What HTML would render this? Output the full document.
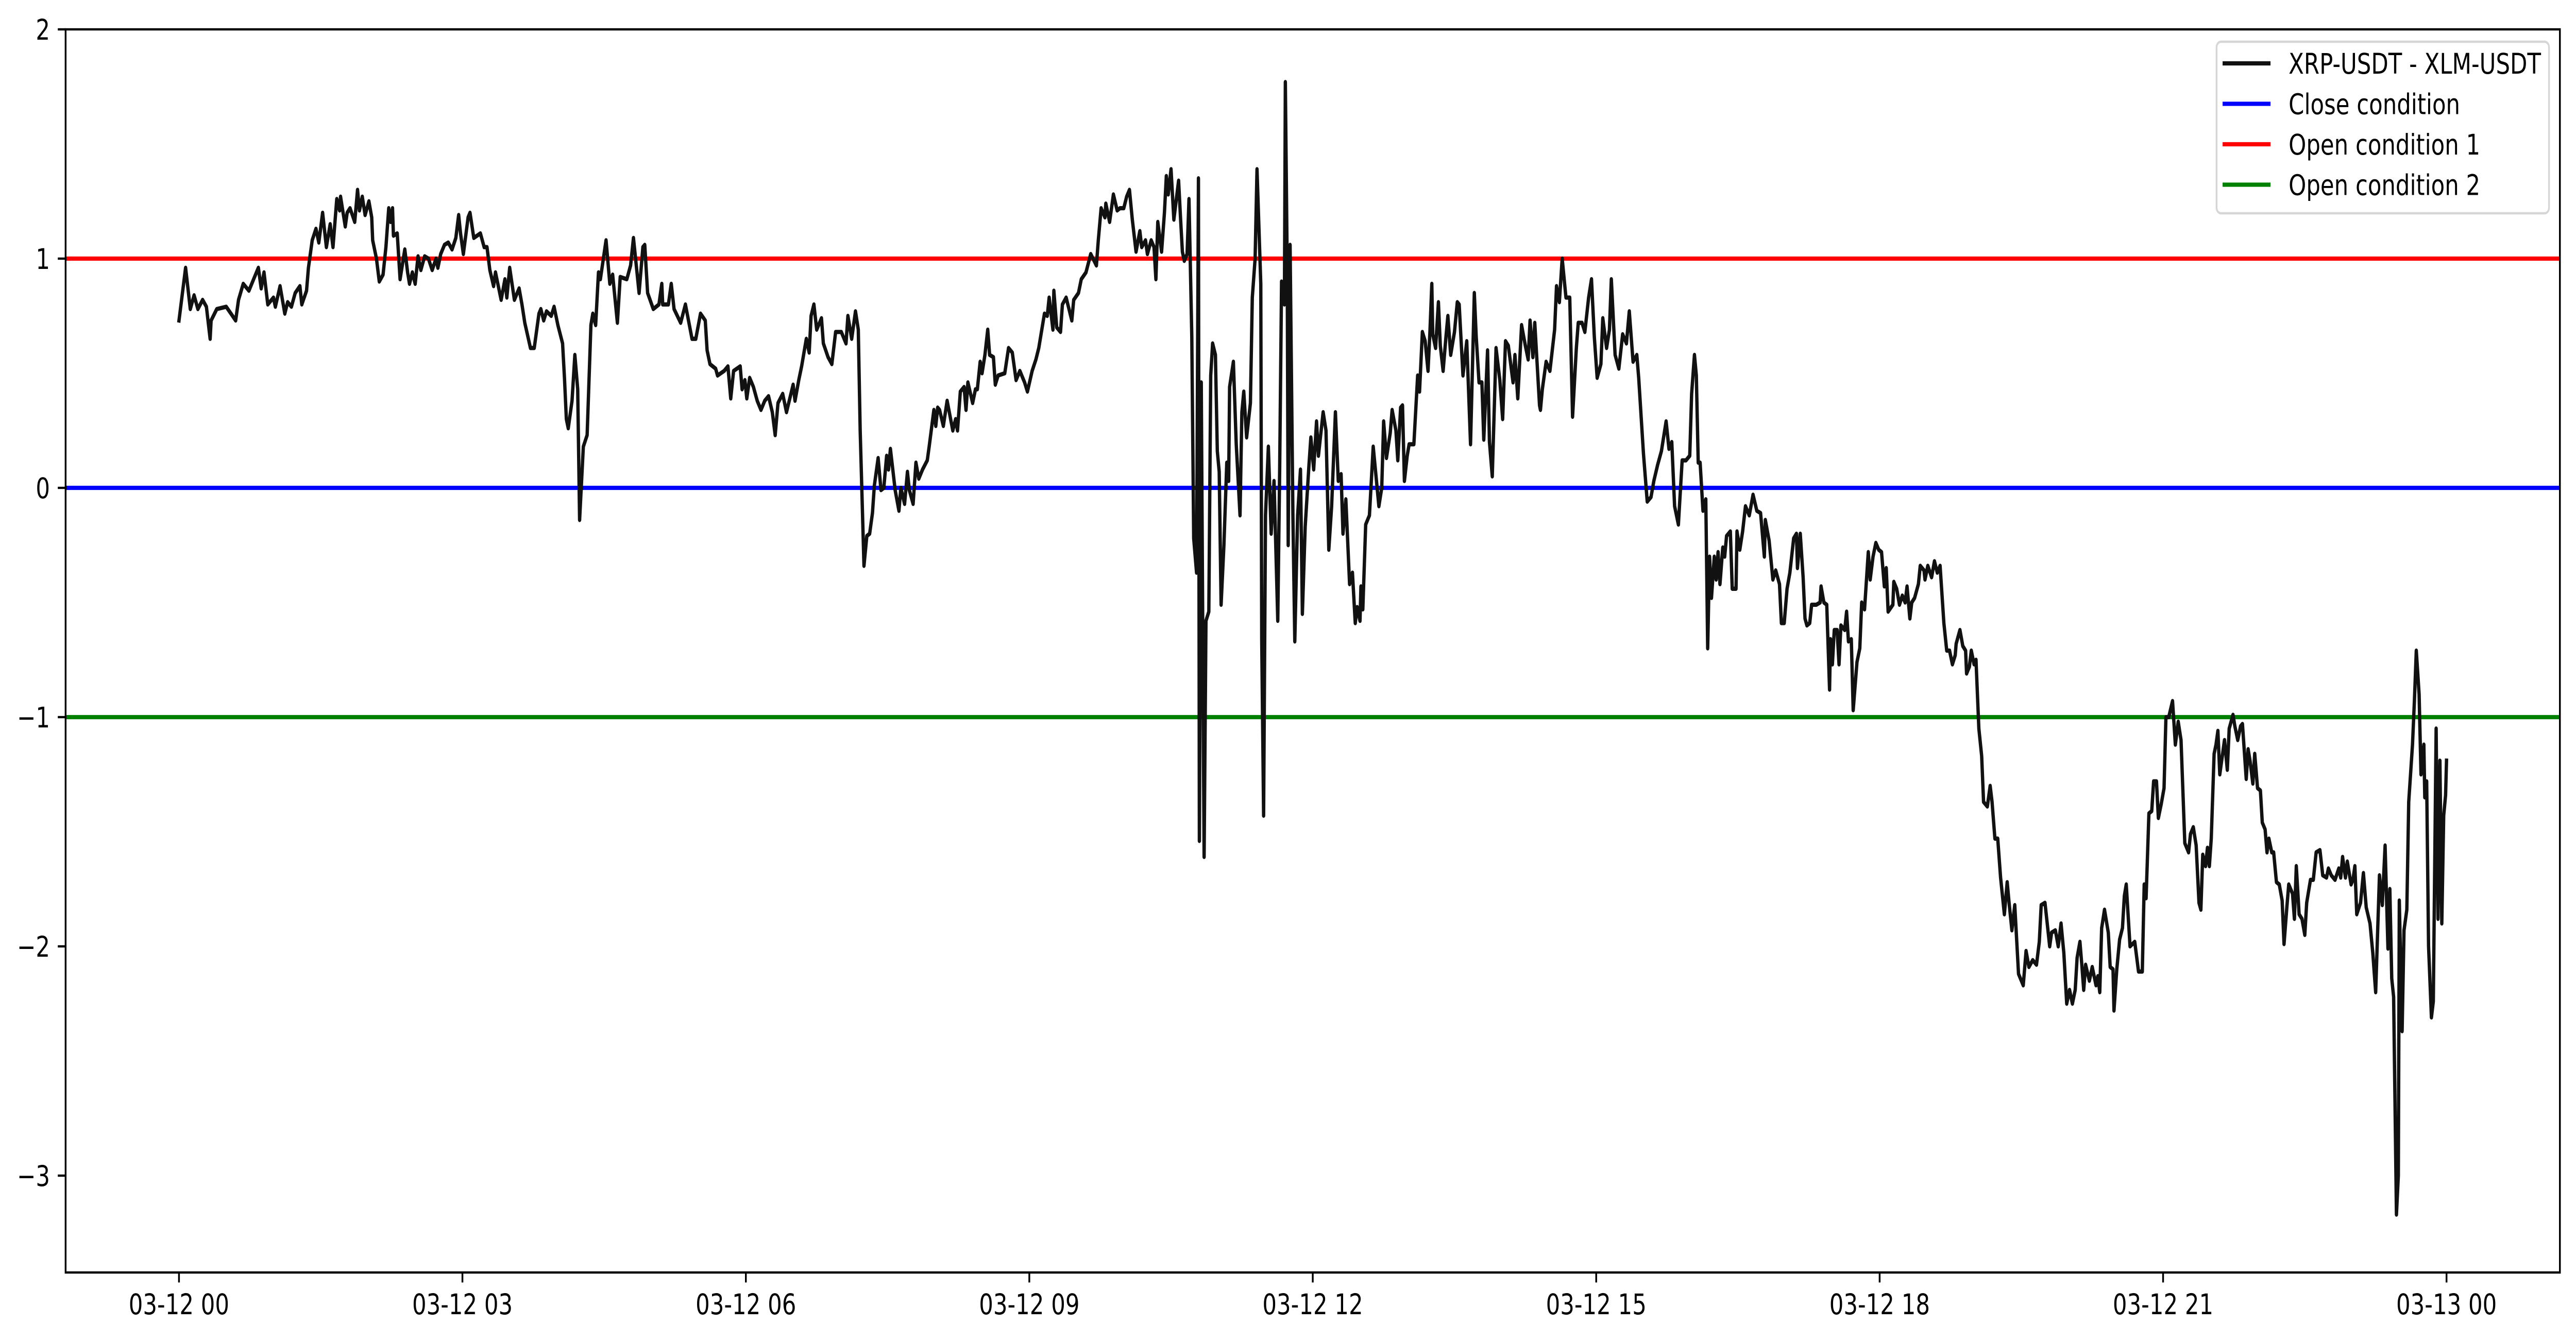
<!DOCTYPE html>
<html><head><meta charset="utf-8">
<meta name="viewport" content="width=6400, initial-scale=1">
<style>
html,body{margin:0;padding:0;background:#fff;width:100%;height:100%;overflow:hidden;}
svg{display:block;position:absolute;left:0;top:0;width:100vw;height:100vh;}
text{font-family:"DejaVu Sans","Liberation Sans",sans-serif;fill:#000;}
</style></head>
<body>
<svg id="chart" viewBox="0 0 6400 2603" preserveAspectRatio="none" xmlns="http://www.w3.org/2000/svg">
<rect x="0" y="0" width="6400" height="2603" fill="#fff"/>
<defs><clipPath id="plotclip"><rect x="163" y="57" width="6197" height="2413"/></clipPath></defs>
<g id="hlines" clip-path="url(#plotclip)"></g>
<g id="series" clip-path="url(#plotclip)"></g>
<g id="axes"></g>
<g id="legend"></g>
</svg>
<script>
const xTickHours = [0,3,6,9,12,15,18,21,24];
const xTickLabels = ["03-12 00","03-12 03","03-12 06","03-12 09","03-12 12","03-12 15","03-12 18","03-12 21","03-13 00"];
const yTickValues = [2,1,0,-1,-2,-3];
const yTickLabels = ["2","1","0","\u22121","\u22122","\u22123"];
const thresholdValues = [0,1,-1];
const thresholdColors = ["#0000ff","#ff0000","#008000"];
const legendLabels = ["XRP-USDT - XLM-USDT","Close condition","Open condition 1","Open condition 2"];
const legendColors = ["#111111","#0000ff","#ff0000","#008000"];
const hours = [0,0.07,0.12,0.16,0.2,0.25,0.29,0.33,0.34,0.4,0.5,0.55,0.6,0.63,0.68,0.74,0.79,0.84,0.87,0.9,0.94,1.0,1.02,1.07,1.12,1.15,1.19,1.23,1.28,1.3,1.35,1.37,1.41,1.45,1.48,1.52,1.56,1.6,1.63,1.67,1.7,1.71,1.76,1.78,1.81,1.86,1.89,1.91,1.94,1.97,2.01,2.04,2.05,2.09,2.12,2.16,2.19,2.22,2.24,2.26,2.27,2.31,2.34,2.39,2.42,2.44,2.47,2.5,2.53,2.56,2.6,2.64,2.68,2.72,2.74,2.77,2.81,2.85,2.89,2.93,2.96,2.98,3.01,3.06,3.08,3.12,3.19,3.23,3.26,3.29,3.33,3.35,3.41,3.45,3.47,3.5,3.55,3.6,3.63,3.66,3.72,3.76,3.81,3.83,3.86,3.89,3.94,3.97,
4.01,4.06,4.08,4.1,4.12,4.16,4.19,4.22,4.24,4.28,4.32,4.36,4.38,4.41,4.44,4.46,4.52,4.56,4.59,4.64,4.67,4.74,4.78,4.81,4.87,4.91,4.93,4.96,5.02,5.08,5.11,5.12,5.18,5.21,5.24,5.31,5.36,5.43,5.47,5.52,5.57,5.59,5.62,5.68,5.7,5.77,5.81,5.84,5.87,5.94,5.96,5.99,6.01,6.04,6.08,6.12,6.16,6.2,6.24,6.28,6.31,6.34,6.39,6.43,6.5,6.52,6.56,6.59,6.64,6.67,6.69,6.72,6.75,6.8,6.82,6.87,6.91,6.95,7.01,7.06,7.08,7.12,7.16,7.19,7.21,7.25,7.28,7.31,7.34,7.36,7.4,7.43,7.46,7.49,7.51,7.53,7.58,7.62,7.64,7.68,7.71,7.73,7.77,7.8,7.83,7.87,7.92,7.94,7.99,8.01,8.03,
8.05,8.09,8.13,8.19,8.22,8.24,8.27,8.31,8.33,8.35,8.4,8.43,8.45,8.48,8.5,8.53,8.56,8.58,8.62,8.64,8.67,8.74,8.78,8.82,8.86,8.9,8.95,8.98,9.03,9.07,9.1,9.16,9.19,9.21,9.25,9.26,9.29,9.33,9.35,9.39,9.45,9.47,9.52,9.55,9.6,9.65,9.71,9.73,9.76,9.8,9.81,9.85,9.89,9.93,9.96,10.0,10.03,10.06,10.09,10.13,10.17,10.19,10.23,10.25,10.29,10.32,10.34,10.36,10.4,10.43,10.45,10.47,10.5,10.53,10.58,10.6,10.62,10.64,10.67,10.69,10.72,10.74,10.77,10.79,10.8,10.82,10.85,10.87,10.9,10.92,10.94,10.97,10.99,11.01,11.03,11.06,11.09,11.11,11.12,11.16,11.19,11.23,11.25,11.27,11.3,11.34,11.36,11.39,11.41,11.45,11.46,11.48,11.5,11.53,11.56,11.59,11.63,11.65,11.67,11.7,11.71,11.73,11.74,11.76,11.79,11.81,11.84,11.87,11.89,11.92,11.96,11.98,12.01,12.04,
12.06,12.11,12.14,12.17,12.2,12.24,12.27,12.3,12.32,12.35,12.39,12.42,12.45,12.47,12.5,12.51,12.53,12.56,12.6,12.64,12.7,12.73,12.75,12.78,12.82,12.84,12.88,12.9,12.93,12.95,12.97,13.0,13.02,13.07,13.11,13.13,13.16,13.19,13.22,13.24,13.26,13.27,13.3,13.33,13.35,13.38,13.41,13.43,13.46,13.5,13.53,13.55,13.59,13.63,13.67,13.71,13.73,13.76,13.79,13.81,13.85,13.87,13.9,13.94,13.98,14.01,14.04,14.07,14.12,14.14,14.17,14.21,14.25,14.28,14.3,14.33,14.35,14.4,14.41,14.43,14.47,14.51,14.56,14.58,14.61,14.64,14.68,14.72,14.75,14.79,14.81,14.85,14.88,14.92,14.95,14.98,15.01,15.05,15.07,15.11,15.14,15.16,15.2,15.24,15.28,15.32,15.35,15.39,15.43,15.45,15.5,15.54,15.58,15.61,15.65,15.69,15.74,15.77,15.8,15.83,15.87,15.91,15.95,15.99,16.01,16.04,
16.06,16.08,16.1,16.13,16.16,16.18,16.2,16.22,16.25,16.27,16.29,16.31,16.34,16.36,16.38,16.42,16.44,16.48,16.49,16.52,16.55,16.58,16.62,16.66,16.7,16.74,16.78,16.79,16.83,16.87,16.9,16.94,16.96,16.99,17.02,17.05,17.09,17.12,17.13,17.16,17.19,17.21,17.23,17.26,17.28,17.33,17.37,17.38,17.41,17.44,17.47,17.48,17.5,17.52,17.55,17.57,17.59,17.63,17.65,17.67,17.7,17.72,17.76,17.79,17.81,17.84,17.88,17.9,17.93,17.96,17.99,18.02,18.05,18.07,18.09,18.14,18.15,18.18,18.21,18.24,18.27,18.29,18.32,18.34,18.37,18.41,18.43,18.47,18.48,18.51,18.55,18.58,18.61,18.64,18.68,18.71,18.74,18.77,18.8,18.81,18.85,18.88,18.91,18.92,18.95,18.97,19.0,19.02,19.05,19.08,19.1,19.14,19.17,19.19,19.22,19.25,19.28,19.32,19.35,19.37,19.4,19.43,19.47,19.52,19.55,19.58,19.62,19.66,19.69,19.71,19.75,19.8,19.82,19.86,19.89,19.92,19.95,19.98,20.01,20.04,
20.07,20.09,20.12,20.14,20.16,20.18,20.22,20.25,20.29,20.31,20.33,20.35,20.38,20.42,20.44,20.47,20.48,20.51,20.54,20.57,20.59,20.61,20.65,20.7,20.74,20.78,20.8,20.82,20.85,20.88,20.9,20.93,20.95,20.98,21.01,21.03,21.06,21.1,21.13,21.16,21.19,21.23,21.27,21.29,21.32,21.35,21.38,21.4,21.42,21.45,21.47,21.49,21.51,21.54,21.56,21.58,21.6,21.65,21.68,21.7,21.74,21.76,21.79,21.82,21.84,21.88,21.9,21.92,21.95,21.97,22.0,22.03,22.05,22.08,22.1,22.12,22.15,22.17,22.2,22.23,22.26,22.28,22.31,22.33,22.37,22.39,22.41,22.44,22.47,22.5,22.52,22.56,22.59,22.62,22.66,22.69,22.73,22.75,22.78,22.82,22.86,22.88,22.9,22.93,22.95,22.99,23.01,23.03,23.05,23.09,23.12,23.15,23.19,23.22,23.25,23.29,23.32,23.35,23.38,23.4,23.42,23.44,23.47,23.49,23.5,23.53,23.55,23.58,23.6,23.64,23.66,23.68,23.71,23.73,23.76,23.77,23.79,23.81,23.84,23.86,23.89,23.91,23.93,23.95,23.97,23.99,24.0];
const values = [0.73,0.96,0.78,0.84,0.78,0.82,0.79,0.65,0.73,0.78,0.79,0.76,0.73,0.82,0.89,0.86,0.91,0.96,0.87,0.94,0.80,0.83,0.79,0.88,0.76,0.81,0.79,0.85,0.88,0.80,0.86,0.96,1.08,1.13,1.07,1.20,1.05,1.15,1.05,1.26,1.21,1.27,1.14,1.20,1.22,1.16,1.30,1.21,1.27,1.19,1.25,1.18,1.08,1.0,0.90,0.93,1.05,1.22,1.16,1.22,1.10,1.11,0.91,1.04,0.94,0.89,0.94,0.89,1.01,0.95,1.01,1.0,0.95,1.0,0.96,1.02,1.06,1.07,1.04,1.09,1.19,1.11,1.02,1.18,1.20,1.09,1.11,1.05,1.05,0.95,0.88,0.94,0.82,0.91,0.83,0.96,0.82,0.87,0.80,0.72,0.61,0.61,0.76,0.78,0.73,0.77,0.75,0.79,
0.71,0.63,0.48,0.30,0.26,0.38,0.58,0.43,-0.14,0.18,0.23,0.71,0.76,0.71,0.94,0.91,1.08,0.89,0.93,0.72,0.92,0.91,0.97,1.09,0.85,1.05,1.06,0.85,0.78,0.80,0.89,0.80,0.80,0.89,0.78,0.72,0.80,0.65,0.65,0.76,0.73,0.60,0.54,0.52,0.49,0.51,0.53,0.39,0.51,0.53,0.43,0.47,0.39,0.48,0.44,0.38,0.34,0.38,0.40,0.33,0.23,0.37,0.41,0.33,0.45,0.38,0.47,0.53,0.65,0.59,0.75,0.80,0.69,0.74,0.63,0.57,0.54,0.68,0.68,0.63,0.75,0.65,0.77,0.69,0.25,-0.34,-0.21,-0.20,-0.11,0.01,0.13,-0.01,0.0,0.14,0.08,0.17,-0.01,-0.10,0.0,-0.07,0.07,-0.01,-0.07,0.11,0.04,0.08,0.12,0.18,0.34,0.27,0.35,
0.34,0.27,0.38,0.25,0.30,0.25,0.42,0.44,0.34,0.46,0.37,0.43,0.43,0.55,0.50,0.58,0.69,0.58,0.57,0.45,0.49,0.50,0.61,0.59,0.47,0.51,0.46,0.42,0.51,0.56,0.61,0.76,0.75,0.83,0.69,0.86,0.70,0.68,0.80,0.83,0.73,0.82,0.85,0.91,0.94,1.02,0.97,1.08,1.22,1.18,1.24,1.16,1.28,1.21,1.22,1.22,1.27,1.30,1.17,1.03,1.12,1.05,1.08,1.02,1.08,1.05,0.91,1.16,1.03,1.20,1.36,1.28,1.39,1.17,1.34,1.18,1.03,0.99,1.02,1.26,0.66,-0.22,-0.37,1.35,-1.54,0.46,-1.61,-0.58,-0.54,0.49,0.63,0.58,0.16,0.07,-0.51,-0.25,0.11,0.03,0.44,0.55,0.19,-0.12,0.33,0.42,0.22,0.37,0.83,1.0,1.39,0.89,-0.66,-1.43,-0.12,0.18,-0.20,0.03,-0.58,0.08,0.90,0.80,1.77,0.95,-0.25,1.06,-0.12,-0.67,-0.12,0.08,-0.55,-0.17,0.10,0.22,0.08,0.29,
0.14,0.33,0.25,-0.27,-0.08,0.33,0.03,0.06,-0.20,-0.05,-0.42,-0.37,-0.59,-0.52,-0.58,-0.43,-0.53,-0.16,-0.12,0.18,-0.08,0.0,0.29,0.13,0.24,0.34,0.25,0.12,0.35,0.36,0.03,0.14,0.19,0.19,0.49,0.42,0.68,0.64,0.51,0.68,0.89,0.67,0.61,0.81,0.62,0.51,0.66,0.75,0.58,0.68,0.81,0.80,0.49,0.64,0.19,0.85,0.66,0.46,0.46,0.21,0.60,0.20,0.05,0.61,0.47,0.30,0.64,0.62,0.46,0.58,0.39,0.71,0.62,0.56,0.73,0.57,0.72,0.36,0.34,0.43,0.55,0.51,0.69,0.88,0.81,1.0,0.83,0.83,0.31,0.61,0.72,0.72,0.68,0.83,0.91,0.66,0.48,0.54,0.74,0.61,0.69,0.91,0.58,0.52,0.67,0.63,0.77,0.55,0.58,0.48,0.15,-0.06,-0.04,0.03,0.10,0.16,0.29,0.17,0.20,-0.08,-0.16,0.12,0.12,0.14,0.41,0.58,
0.49,0.11,0.11,-0.10,-0.05,-0.70,-0.30,-0.48,-0.30,-0.40,-0.28,-0.42,-0.26,-0.30,-0.21,-0.19,-0.44,-0.44,-0.19,-0.27,-0.19,-0.08,-0.12,-0.03,-0.10,-0.11,-0.30,-0.14,-0.23,-0.40,-0.36,-0.42,-0.59,-0.59,-0.44,-0.37,-0.22,-0.20,-0.35,-0.20,-0.39,-0.57,-0.60,-0.59,-0.51,-0.51,-0.50,-0.43,-0.50,-0.51,-0.88,-0.66,-0.77,-0.62,-0.62,-0.77,-0.60,-0.62,-0.54,-0.67,-0.66,-0.97,-0.76,-0.70,-0.50,-0.53,-0.28,-0.40,-0.30,-0.24,-0.27,-0.28,-0.43,-0.35,-0.54,-0.51,-0.41,-0.44,-0.51,-0.47,-0.50,-0.43,-0.57,-0.50,-0.48,-0.42,-0.34,-0.36,-0.40,-0.34,-0.39,-0.32,-0.37,-0.34,-0.59,-0.71,-0.71,-0.77,-0.73,-0.68,-0.62,-0.69,-0.71,-0.81,-0.78,-0.71,-0.77,-0.75,-1.05,-1.17,-1.37,-1.39,-1.30,-1.37,-1.53,-1.53,-1.70,-1.86,-1.72,-1.81,-1.93,-1.82,-2.12,-2.17,-2.02,-2.09,-2.06,-2.08,-1.98,-1.82,-1.81,-2.0,-1.94,-1.93,-2.0,-1.90,-2.03,-2.25,-2.19,-2.25,
-2.19,-2.05,-1.98,-2.08,-2.19,-2.08,-2.15,-2.09,-2.17,-2.13,-2.20,-1.92,-1.84,-1.94,-2.09,-2.10,-2.28,-2.10,-1.97,-1.92,-1.78,-1.73,-2.0,-1.98,-2.11,-2.11,-1.73,-1.79,-1.42,-1.41,-1.28,-1.28,-1.44,-1.38,-1.31,-1.0,-1.0,-0.93,-1.12,-1.02,-1.10,-1.55,-1.59,-1.51,-1.48,-1.56,-1.81,-1.84,-1.60,-1.65,-1.57,-1.65,-1.53,-1.16,-1.12,-1.06,-1.25,-1.10,-1.23,-1.05,-0.99,-1.04,-1.10,-1.04,-1.03,-1.27,-1.14,-1.19,-1.29,-1.16,-1.31,-1.32,-1.46,-1.49,-1.59,-1.53,-1.59,-1.59,-1.72,-1.73,-1.80,-1.99,-1.83,-1.73,-1.77,-1.88,-1.65,-1.86,-1.88,-1.95,-1.81,-1.71,-1.71,-1.59,-1.58,-1.69,-1.70,-1.66,-1.69,-1.71,-1.66,-1.70,-1.61,-1.70,-1.63,-1.73,-1.71,-1.65,-1.86,-1.81,-1.68,-1.83,-1.90,-2.03,-2.20,-1.69,-1.82,-1.56,-2.01,-1.75,-2.14,-2.22,-3.17,-3.0,-1.80,-2.37,-1.93,-1.84,-1.37,-1.12,-0.93,-0.71,-0.90,-1.25,-1.12,-1.35,-1.28,-2.0,-2.31,-2.24,-1.05,-1.88,-1.19,-1.90,-1.43,-1.34,-1.19];

const NS = "http://www.w3.org/2000/svg";
const AX = {left:163, right:6360, top:57, bottom:2470};
const XMIN = -1.2, XMAX = 25.2, YMIN = -3.4225, YMAX = 2.0;
function xScale(h){ return AX.left + (h - XMIN) / (XMAX - XMIN) * (AX.right - AX.left); }
function yScale(v){ return AX.bottom - (v - YMIN) / (YMAX - YMIN) * (AX.bottom - AX.top); }
function mk(tag, attrs, parent){
  const e = document.createElementNS(NS, tag);
  for (const k in attrs) e.setAttribute(k, attrs[k]);
  parent.appendChild(e);
  return e;
}

const hl = document.getElementById("hlines");
thresholdValues.forEach((v, i) => {
  const l = mk("line", {x1:AX.left, x2:AX.right, y1:yScale(v), y2:yScale(v), stroke:thresholdColors[i], "stroke-width":8.3}, hl);
  
  
});

const sg = document.getElementById("series");
let d = "";
for (let i = 0; i < hours.length; i++) {
  d += (i ? "L" : "M") + xScale(hours[i]).toFixed(1) + " " + yScale(values[i]).toFixed(1);
}
const path = mk("path", {d:d, fill:"none", stroke:"#111111", "stroke-width":8.3, "stroke-linejoin":"round", "stroke-linecap":"square"}, sg);



const ax = document.getElementById("axes");
const frame = mk("rect", {x:AX.left, y:AX.top, width:AX.right-AX.left, height:AX.bottom-AX.top, fill:"none", stroke:"#000", "stroke-width":4.4}, ax);


xTickHours.forEach((h, i) => {
  const x = xScale(h);
  const t = mk("line", {x1:x, x2:x, y1:AX.bottom, y2:AX.bottom+19.4, stroke:"#000", "stroke-width":4.4}, ax);
  
  
  const tx = mk("text", {x:x, y:AX.bottom+19.4+19.4+42, "text-anchor":"middle", "font-size":55.6}, ax);
  tx.textContent = xTickLabels[i];
  
  
});
yTickValues.forEach((v, i) => {
  const y = yScale(v);
  const t = mk("line", {x1:AX.left-19.4, x2:AX.left, y1:y, y2:y, stroke:"#000", "stroke-width":4.4}, ax);
  
  
  const tx = mk("text", {x:AX.left-19.4-19.4, y:y+20, "text-anchor":"end", "font-size":55.6}, ax);
  tx.textContent = yTickLabels[i];
  
  
});

const lg = document.getElementById("legend");
const box = mk("rect", {x:5507, y:81, width:826, height:333, rx:11, ry:11, fill:"#fff", "fill-opacity":0.8, stroke:"#d6d6d6", "stroke-width":4.4}, lg);


legendLabels.forEach((lab, i) => {
  const cy = 123 + i * 78.5;
  const ln = mk("line", {x1:5522, x2:5641, y1:cy, y2:cy, stroke:legendColors[i], "stroke-width":8.3}, lg);
  
  
  const tx = mk("text", {x:5686, y:cy+20, "font-size":55.6}, lg);
  tx.textContent = lab;
  
  
});
</script>
</body></html>
